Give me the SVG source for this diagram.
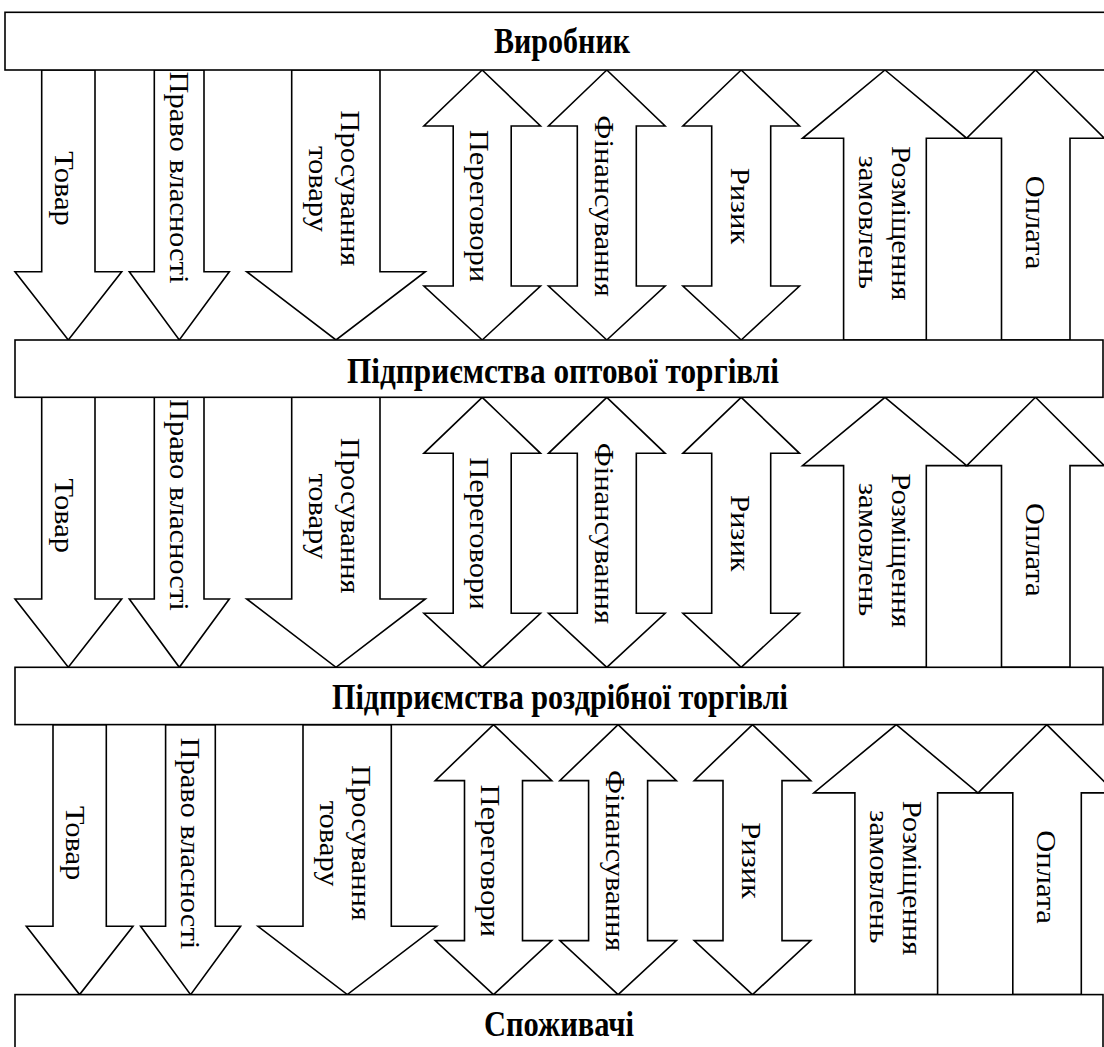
<svg xmlns="http://www.w3.org/2000/svg" xmlns:xlink="http://www.w3.org/1999/xlink" width="1104" height="1047" viewBox="0 0 1104 1047">
<style>
.shape{fill:#fff;stroke:#000;stroke-width:1.6;stroke-linejoin:miter}
.lbl{font-family:"Liberation Serif","Times New Roman","DejaVu Serif",serif;font-size:27px;text-anchor:middle;fill:#000}
.ttl{font-family:"Liberation Serif","Times New Roman","DejaVu Serif",serif;font-size:36px;font-weight:bold;text-anchor:middle;fill:#000}
</style>
<defs>
<path id="a-tovar" d="M41.7,0 V201.7 H15 L68.3,270 L121.7,201.7 H95 V0 Z"/>
<path id="a-pravo" d="M154.3,0 V201.7 H129.3 L179.3,270 L229.3,201.7 H204 V0 Z"/>
<path id="a-prosuv" d="M291.7,0 V201.7 H246.7 L336,270 L425.3,201.7 H380 V0 Z"/>
<path id="a-perehov" d="M482.2,0 L540.5,56 H511.2 V216 H540.5 L482.2,270 L423.9,216 H453.2 V56 H423.9 Z"/>
<path id="a-finans" d="M606.8,0 L665.1,56 H636.3 V216 H665.1 L606.8,270 L548.5,216 H577.3 V56 H548.5 Z"/>
<path id="a-ryzyk" d="M741.2,0 L799.5,56 H770.7 V216 H799.5 L741.2,270 L682.9,216 H711.7 V56 H682.9 Z"/>
<path id="a-rozm" d="M885,0 L966.7,68.3 H926.3 V270 H843.6 V68.3 H802.5 Z"/>
<path id="a-oplata" d="M1035.5,0 L1104.3,68.3 H1070 V270 H1001.5 V68.3 H966.7 Z"/>
</defs>
<rect x="0" y="0" width="1104" height="1047" fill="#fff"/>
<g id="connectors">
<g id="row1" transform="translate(0,70)">
<use xlink:href="#a-tovar" class="shape"/>
<use xlink:href="#a-pravo" class="shape"/>
<use xlink:href="#a-prosuv" class="shape"/>
<use xlink:href="#a-perehov" class="shape"/>
<use xlink:href="#a-finans" class="shape"/>
<use xlink:href="#a-ryzyk" class="shape"/>
<use xlink:href="#a-rozm" class="shape"/>
<use xlink:href="#a-oplata" class="shape"/>
</g>
<g id="row2" transform="translate(0,397.3)">
<use xlink:href="#a-tovar" class="shape"/>
<use xlink:href="#a-pravo" class="shape"/>
<use xlink:href="#a-prosuv" class="shape"/>
<use xlink:href="#a-perehov" class="shape"/>
<use xlink:href="#a-finans" class="shape"/>
<use xlink:href="#a-ryzyk" class="shape"/>
<use xlink:href="#a-rozm" class="shape"/>
<use xlink:href="#a-oplata" class="shape"/>
</g>
<g id="row3" transform="translate(11.3,724.6)">
<use xlink:href="#a-tovar" class="shape"/>
<use xlink:href="#a-pravo" class="shape"/>
<use xlink:href="#a-prosuv" class="shape"/>
<use xlink:href="#a-perehov" class="shape"/>
<use xlink:href="#a-finans" class="shape"/>
<use xlink:href="#a-ryzyk" class="shape"/>
<use xlink:href="#a-rozm" class="shape"/>
<use xlink:href="#a-oplata" class="shape"/>
</g>
<g id="labels1">
<text class="lbl" transform="translate(55,188.5) rotate(90) scale(1.13,1)">Товар</text>
<text class="lbl" transform="translate(169.5,177.5) rotate(90) scale(1.13,1)">Право власності</text>
<text class="lbl" transform="translate(341,188.3) rotate(90) scale(1.13,1)">Просування</text>
<text class="lbl" transform="translate(308.5,189) rotate(90) scale(1.13,1)">товару</text>
<text class="lbl" transform="translate(470,206) rotate(90) scale(1.13,1)">Переговори</text>
<text class="lbl" transform="translate(595,206) rotate(90) scale(1.13,1)">Фінансування</text>
<text class="lbl" transform="translate(731,206) rotate(90) scale(1.13,1)">Ризик</text>
<text class="lbl" transform="translate(892,223.3) rotate(90) scale(1.13,1)">Розміщення</text>
<text class="lbl" transform="translate(859,222.3) rotate(90) scale(1.13,1)">замовлень</text>
<text class="lbl" transform="translate(1025.5,222.5) rotate(90) scale(1.13,1)">Оплата</text>
</g>
<g id="labels2">
<text class="lbl" transform="translate(55,515.8) rotate(90) scale(1.13,1)">Товар</text>
<text class="lbl" transform="translate(169.5,504.8) rotate(90) scale(1.13,1)">Право власності</text>
<text class="lbl" transform="translate(341,515.6) rotate(90) scale(1.13,1)">Просування</text>
<text class="lbl" transform="translate(308.5,516.3) rotate(90) scale(1.13,1)">товару</text>
<text class="lbl" transform="translate(470,533.3) rotate(90) scale(1.13,1)">Переговори</text>
<text class="lbl" transform="translate(595,533.3) rotate(90) scale(1.13,1)">Фінансування</text>
<text class="lbl" transform="translate(731,533.3) rotate(90) scale(1.13,1)">Ризик</text>
<text class="lbl" transform="translate(892,550.6) rotate(90) scale(1.13,1)">Розміщення</text>
<text class="lbl" transform="translate(859,549.6) rotate(90) scale(1.13,1)">замовлень</text>
<text class="lbl" transform="translate(1025.5,549.8) rotate(90) scale(1.13,1)">Оплата</text>
</g>
<g id="labels3">
<text class="lbl" transform="translate(66.3,843.1) rotate(90) scale(1.13,1)">Товар</text>
<text class="lbl" transform="translate(180.8,843.3) rotate(90) scale(1.13,1)">Право власності</text>
<text class="lbl" transform="translate(352.3,842.9) rotate(90) scale(1.13,1)">Просування</text>
<text class="lbl" transform="translate(319.8,843.6) rotate(90) scale(1.13,1)">товару</text>
<text class="lbl" transform="translate(481.3,860.6) rotate(90) scale(1.13,1)">Переговори</text>
<text class="lbl" transform="translate(606.3,860.6) rotate(90) scale(1.13,1)">Фінансування</text>
<text class="lbl" transform="translate(742.3,860.6) rotate(90) scale(1.13,1)">Ризик</text>
<text class="lbl" transform="translate(903.3,877.9) rotate(90) scale(1.13,1)">Розміщення</text>
<text class="lbl" transform="translate(870.3,876.9) rotate(90) scale(1.13,1)">замовлень</text>
<text class="lbl" transform="translate(1036.8,877.1) rotate(90) scale(1.13,1)">Оплата</text>
</g>
</g>
<g id="node-vyrobnyk">
<rect class="shape" x="5" y="12.3" width="1104" height="57.7"/>
<text class="ttl" x="562" y="53" textLength="136" lengthAdjust="spacingAndGlyphs">Виробник</text>
</g>
<g id="node-opt">
<rect class="shape" x="15" y="340" width="1088" height="57.3"/>
<text class="ttl" x="563" y="383" textLength="432" lengthAdjust="spacingAndGlyphs">Підприємства оптової торгівлі</text>
</g>
<g id="node-rozdrib">
<rect class="shape" x="15" y="667.3" width="1088" height="57.3"/>
<text class="ttl" x="560" y="708.5" textLength="456" lengthAdjust="spacingAndGlyphs">Підприємства роздрібної торгівлі</text>
</g>
<g id="node-spozhyvachi">
<rect class="shape" x="15" y="994.6" width="1088" height="70"/>
<text class="ttl" x="559" y="1036" textLength="150" lengthAdjust="spacingAndGlyphs">Споживачі</text>
</g>
</svg>
